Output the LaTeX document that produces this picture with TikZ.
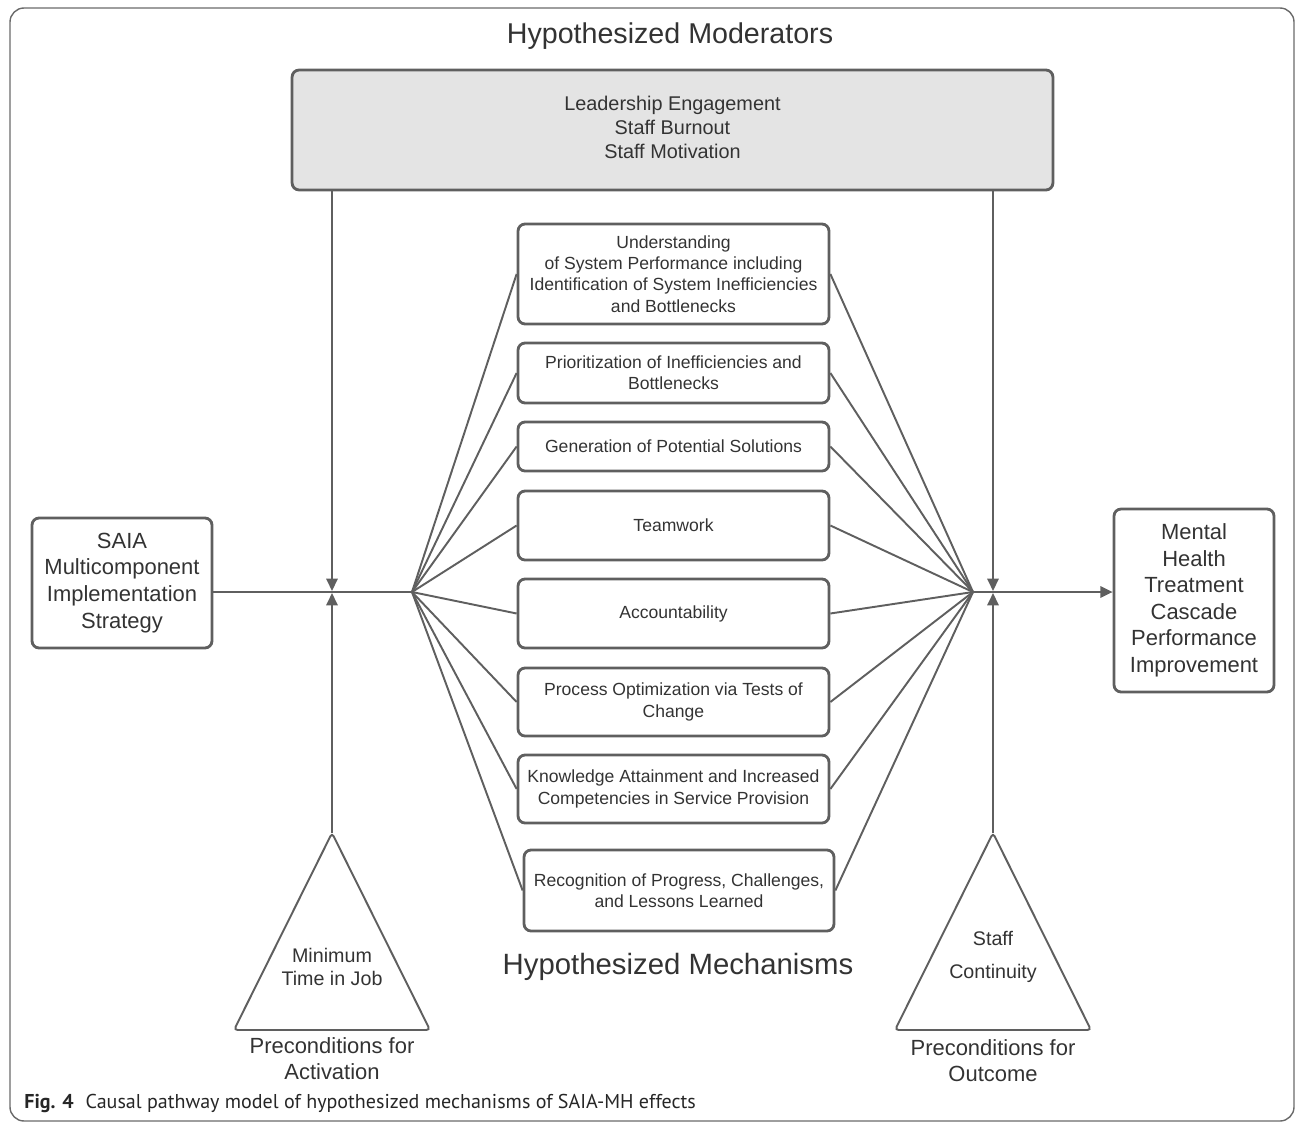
\documentclass[tikz,border=0pt]{standalone}
\usepackage{fontspec}
\setmainfont{Liberation Sans}
\newfontfamily\capfont{PT Sans}
\usepackage{xcolor}
\usepackage{tikz}
\usetikzlibrary{arrows.meta}

\definecolor{linegray}{HTML}{5F5F5F}
\definecolor{txtgray}{HTML}{333333}
\definecolor{modfill}{HTML}{E4E4E4}
\definecolor{framegray}{HTML}{6A6A6A}

\begin{document}
\begin{tikzpicture}[x=0.02cm, y=-0.02cm,
    box/.style={draw=linegray, line width=1.6pt, rounded corners=4pt, align=center, text=txtgray, inner sep=2pt},
    mech/.style={box, minimum width=6.22cm, font=\fontsize{10}{12.2}\selectfont},
    link/.style={draw=linegray, line width=1.1pt},
    arr/.style={link, -{Triangle[length=7pt, width=6.5pt]}},
    tri/.style={draw=linegray, line width=1.1pt, rounded corners=2pt},
    lbl/.style={text=txtgray, align=center}]
    \useasboundingbox (0,0) rectangle (1295,1122);
    \draw[framegray, line width=0.8pt, rounded corners=8pt] (10,8) rectangle (1294,1121);

    \node[lbl, font=\fontsize{16.3}{19}\selectfont] (ModTitle) at (670,36) {Hypothesized Moderators};
    \node[box, fill=modfill, minimum width=15.22cm, minimum height=2.4cm] (Mod) at (672.5,130) {};
    \node[lbl, font=\fontsize{11.3}{13.6}\selectfont] (ModText) at (672.5,127.5) {Leadership Engagement\\Staff Burnout\\Staff Motivation};

    % mechanisms
    \node[mech, minimum height=2.0cm] (M1) at (673.5,274) {Understanding\\of System Performance including\\Identification of System Inefficiencies\\and Bottlenecks};
    \node[mech, minimum height=1.2cm] (M2) at (673.5,373) {Prioritization of Inefficiencies and\\Bottlenecks};
    \node[mech, minimum height=0.98cm] (M3) at (673.5,446.5) {Generation of Potential Solutions};
    \node[mech, minimum height=1.38cm] (M4) at (673.5,525.5) {Teamwork};
    \node[mech, minimum height=1.38cm] (M5) at (673.5,613.5) {Accountability};
    \node[mech, minimum height=1.36cm] (M6) at (673.5,702) {Process Optimization via Tests of\\Change};
    \node[mech, minimum height=1.36cm] (M7) at (673.5,789) {Knowledge Attainment and Increased\\Competencies in Service Provision};
    \node[mech, minimum width=6.2cm, minimum height=1.62cm] (M8) at (679,890.5) {Recognition of Progress, Challenges,\\and Lessons Learned};
    \node[lbl, font=\fontsize{16.7}{20}\selectfont] (MechTitle) at (678,967) {Hypothesized Mechanisms};

    % strategy and outcome
    \node[box, minimum width=3.6cm, minimum height=2.6cm, font=\fontsize{12.5}{15.3}\selectfont] (SAIA) at (122,583) {SAIA\\Multicomponent\\Implementation\\Strategy};
    \node[box, minimum width=3.2cm, minimum height=3.66cm, font=\fontsize{12.5}{15.1}\selectfont] (Out) at (1194,600.5) {Mental\\Health\\Treatment\\Cascade\\Performance\\Improvement};

    \coordinate (HubL) at (412,592);
    \coordinate (HubR) at (973,592);
    \coordinate (JL) at (332,592);
    \coordinate (JR) at (993,592);

    \draw[link] (SAIA.east |- HubL) -- (HubL);
    \draw[arr] (HubR) -- (Out.west |- HubR);

    \draw[link] (HubL) -- (M1.west);
    \draw[link] (HubL) -- (M2.west);
    \draw[link] (HubL) -- (M3.west);
    \draw[link] (HubL) -- (M4.west);
    \draw[link] (HubL) -- (M5.west);
    \draw[link] (HubL) -- (M6.west);
    \draw[link] (HubL) -- (M7.west);
    \draw[link] (HubL) -- (M8.west);
    \draw[link] (M1.east) -- (HubR);
    \draw[link] (M2.east) -- (HubR);
    \draw[link] (M3.east) -- (HubR);
    \draw[link] (M4.east) -- (HubR);
    \draw[link] (M5.east) -- (HubR);
    \draw[link] (M6.east) -- (HubR);
    \draw[link] (M7.east) -- (HubR);
    \draw[link] (M8.east) -- (HubR);

    % preconditions
    \coordinate (TriL) at (332,833);
    \coordinate (TriR) at (993,833);
    \draw[tri] (TriL) -- (234,1030) -- (430,1030) -- cycle;
    \draw[tri] (TriR) -- (895,1030) -- (1091,1030) -- cycle;
    \node[lbl, font=\fontsize{11.2}{13.6}\selectfont] (TimeJob) at (332,967) {Minimum\\Time in Job};
    \node[lbl, font=\fontsize{11.2}{18.7}\selectfont] (StaffCont) at (993,957) {Staff\\Continuity};
    \node[lbl, font=\fontsize{12.5}{14.7}\selectfont] (PreAct) at (332,1059) {Preconditions for\\Activation};
    \node[lbl, font=\fontsize{12.5}{14.7}\selectfont] (PreOut) at (993,1061) {Preconditions for\\Outcome};

    \draw[arr, shorten >=0.6pt] (Mod.south -| JL) -- (JL);
    \draw[arr, shorten >=0.6pt] (TriL) -- (JL);
    \draw[arr, shorten >=0.6pt] (Mod.south -| JR) -- (JR);
    \draw[arr, shorten >=0.6pt] (TriR) -- (JR);

    \node[anchor=west, text=black!85, inner sep=0pt, font=\capfont\fontsize{11.4}{14}\selectfont] (Caption) at (24,1103) {\textbf{Fig. 4}\hspace{0.6em}Causal pathway model of hypothesized mechanisms of SAIA-MH effects};
\end{tikzpicture}
\end{document}
